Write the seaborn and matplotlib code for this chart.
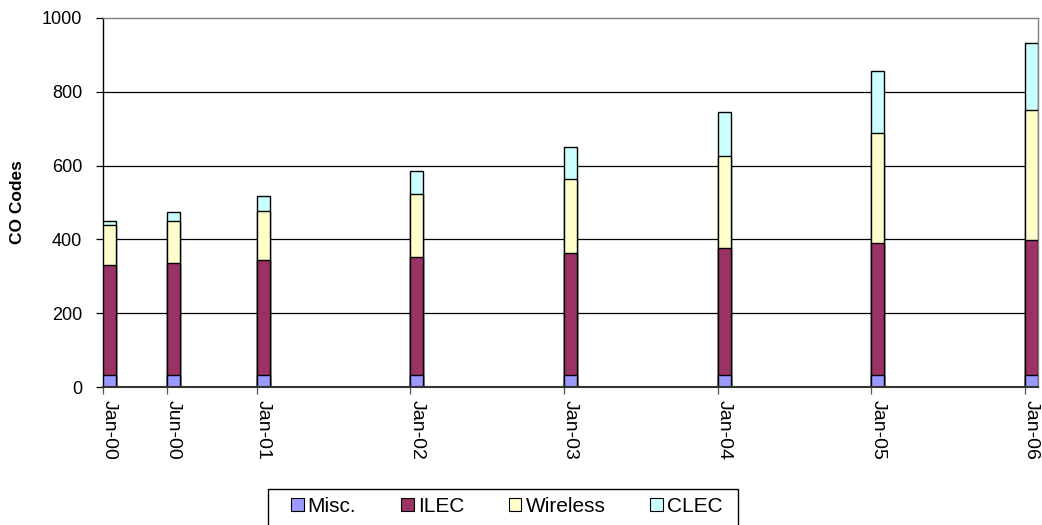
import numpy as np
import pandas as pd
import matplotlib
matplotlib.use("Agg")
import matplotlib.pyplot as plt
import matplotlib.dates as mdates
from matplotlib.patches import Patch, Rectangle
import seaborn as sns

# ---- data ----
dates = ["2000-01-01", "2000-06-01", "2001-01-01", "2002-01-01",
         "2003-01-01", "2004-01-01", "2005-01-01", "2006-01-01"]
tick_labels = ["Jan-00", "Jun-00", "Jan-01", "Jan-02",
               "Jan-03", "Jan-04", "Jan-05", "Jan-06"]
misc = [32, 32, 32, 32, 32, 32, 32, 32]
ilec = [298, 303, 311, 320, 332, 344, 358, 366]
wireless = [108, 115, 133, 170, 199, 249, 297, 352]
clec = [12, 23, 42, 63, 87, 121, 170, 183]
series_names = ["Misc.", "ILEC", "Wireless", "CLEC"]
colors = ["#9999FF", "#993366", "#FFFFCC", "#CCFFFF"]

sns.set_theme(style="white")
plt.rcParams["font.family"] = ["Liberation Sans", "DejaVu Sans"]
plt.rcParams["text.color"] = "black"
plt.rcParams["axes.labelcolor"] = "black"
plt.rcParams["xtick.color"] = "black"
plt.rcParams["ytick.color"] = "black"

W, H = 1042, 525
fig = plt.figure(figsize=(W / 100, H / 100), dpi=100)
ax = fig.add_axes([103 / W, 1 - 387 / H, (1038 - 103) / W, (387 - 18) / H])

x = mdates.date2num(pd.to_datetime(dates))
bar_days = 31
centers = x + bar_days / 2
width = bar_days / np.min(np.diff(x))

layers = [misc, ilec, wireless, clec]
cums = np.cumsum(np.array(layers), axis=0)

# draw from the top layer (cumulative total) down to the bottom layer
for i in range(len(layers) - 1, -1, -1):
    sns.barplot(x=centers, y=cums[i], native_scale=True, width=width,
                color=colors[i], saturation=1, edgecolor="black",
                linewidth=1.0, errorbar=None, ax=ax, zorder=3)

ax.set_xlim(mdates.date2num(pd.Timestamp("2000-01-01")),
            mdates.date2num(pd.Timestamp("2006-02-01")))
ax.set_ylim(0, 1000)
ax.set_yticks([0, 200, 400, 600, 800, 1000])
ax.set_yticklabels(["0", "200", "400", "600", "800", "1000"], fontsize=13)

# tick marks at bar left edges, labels centred under bars
ax.set_xticks(x)
ax.set_xticklabels([])
ax.set_xticks(centers, minor=True)
ax.set_xticklabels(tick_labels, minor=True, rotation=270, fontsize=14)
ax.set_xlabel("")
ax.set_ylabel("CO Codes", fontsize=12.5, fontweight="bold", labelpad=12)

for yv in [200, 400, 600, 800]:
    ax.axhline(yv, color="black", linewidth=0.9, zorder=1)

ax.tick_params(axis="y", which="major", direction="out", length=5,
               width=0.9, color="black", left=True, pad=10)
ax.tick_params(axis="x", which="major", direction="out", length=5,
               width=0.9, color="#555555", bottom=True)
ax.tick_params(axis="x", which="minor", length=0, bottom=True, pad=9)

for side in ["top", "right"]:
    ax.spines[side].set_color("#808080")
    ax.spines[side].set_linewidth(1.0)
ax.spines["left"].set_color("black")
ax.spines["left"].set_linewidth(1.0)
ax.spines["bottom"].set_color("#333333")
ax.spines["bottom"].set_linewidth(1.5)
ax.spines["bottom"].set_zorder(4)

# legend (frame drawn separately so it runs off the bottom edge like the reference)
handles = [Patch(facecolor=c, edgecolor="black", linewidth=0.8) for c in colors]
leg = fig.legend(handles, series_names, loc="center left",
                 bbox_to_anchor=(291 / W, 1 - 506 / H), ncol=4,
                 frameon=False, fontsize=15,
                 handlelength=0.6, handleheight=0.6, handletextpad=0.2,
                 columnspacing=2.15, borderpad=0, borderaxespad=0)
fig.add_artist(Rectangle((268 / W, -0.05), (738 - 268) / W, 0.05 + (H - 489) / H,
                         transform=fig.transFigure, facecolor="none",
                         edgecolor="black", linewidth=1.0))

fig.savefig("out.png", dpi=100)
